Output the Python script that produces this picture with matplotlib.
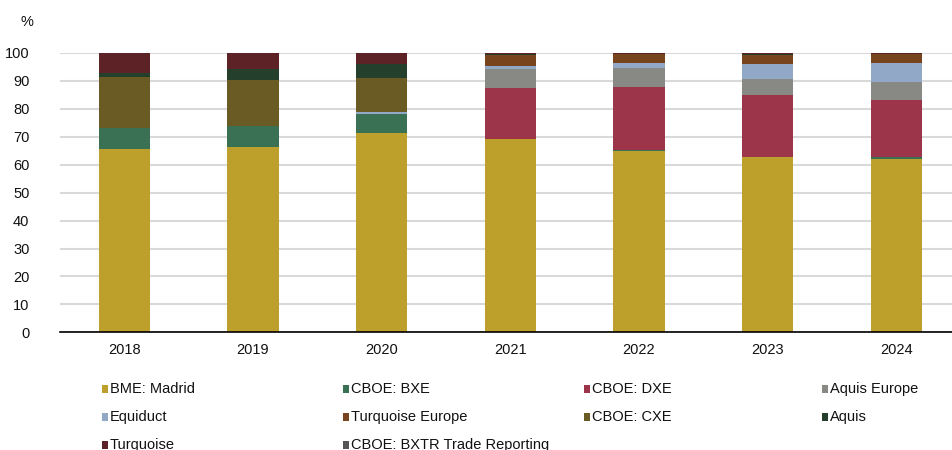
import matplotlib
matplotlib.use("Agg")
import matplotlib.pyplot as plt
from matplotlib.patches import Rectangle
import numpy as np

plt.rcParams['font.family'] = ['Liberation Sans Narrow', 'Liberation Sans', 'DejaVu Sans']

years = ["2018", "2019", "2020", "2021", "2022", "2023", "2024"]
series_names = ["BME: Madrid", "CBOE: BXE", "CBOE: DXE", "Aquis Europe",
                "Equiduct", "Turquoise Europe", "CBOE: CXE", "Aquis",
                "Turquoise", "CBOE: BXTR Trade Reporting"]
colors = ["#BDA02B", "#3A7054", "#9C3549", "#888884",
          "#91A8C6", "#78441E", "#695B23", "#243F2B",
          "#5C2226", "#555555"]

bme_madrid       = [65.6, 66.3, 71.3, 69.1, 64.9, 62.7, 62.0]
cboe_bxe         = [7.4, 7.5, 6.8, 0.0, 0.4, 0.0, 0.7]
cboe_dxe         = [0.0, 0.0, 0.0, 18.3, 22.4, 22.2, 20.4]
aquis_europe     = [0.0, 0.0, 0.0, 6.8, 6.8, 5.7, 6.4]
equiduct         = [0.3, 0.0, 0.9, 1.0, 1.8, 5.4, 6.8]
turquoise_europe = [0.0, 0.0, 0.0, 4.0, 3.2, 3.2, 3.2]
cboe_cxe         = [18.0, 16.4, 12.0, 0.0, 0.0, 0.0, 0.0]
aquis            = [1.4, 3.9, 5.2, 0.3, 0.0, 0.3, 0.0]
turquoise        = [7.3, 5.9, 3.8, 0.5, 0.5, 0.5, 0.5]
cboe_bxtr        = [0.0, 0.0, 0.0, 0.0, 0.0, 0.0, 0.0]

series = [bme_madrid, cboe_bxe, cboe_dxe, aquis_europe, equiduct,
          turquoise_europe, cboe_cxe, aquis, turquoise, cboe_bxtr]

W, H = 952, 450
fig = plt.figure(figsize=(W / 100, H / 100), dpi=100)
ax = fig.add_axes([60 / W, (H - 332.3) / H, (W - 60) / W, (332.3 - 53) / H])

x = np.arange(len(years))
bottom = np.zeros(len(years))
for vals, col in zip(series, colors):
    v = np.array(vals)
    ax.bar(x, v, width=0.4, bottom=bottom, color=col, linewidth=0, zorder=3)
    bottom += v

ax.set_ylim(0, 100)
ax.set_xlim(-0.5, -0.5 + 892 / 128.67)
ax.set_yticks(np.arange(0, 101, 10))
ax.set_xticks(x)
ax.set_xticklabels(years)
ax.grid(axis='y', color='#D9D9D9', linewidth=1.5, zorder=0)
ax.set_axisbelow(True)
for s in ['top', 'right', 'left']:
    ax.spines[s].set_visible(False)
ax.spines['bottom'].set_color('black')
ax.spines['bottom'].set_linewidth(1.2)
ax.spines['bottom'].set_zorder(4)
ax.tick_params(axis='both', length=0, labelsize=10.5, colors='#111111')
ax.tick_params(axis='y', pad=22)
ax.tick_params(axis='x', pad=8)
for lbl in ax.get_yticklabels():
    lbl.set_horizontalalignment('right')

fig.text(27 / W, 1 - 22 / H, "%", fontsize=10.5, ha='center', va='center', color='#111111')

# manual legend, 4 per row
col_x = [105, 346, 587, 825]
row_y = [389, 417, 445]
for i, (name, col) in enumerate(zip(series_names, colors)):
    r, c = divmod(i, 4)
    px, py = col_x[c], row_y[r]
    fig.patches.append(Rectangle(((px - 3) / W, 1 - (py + 4) / H), 6 / W, 8 / H,
                                 transform=fig.transFigure, facecolor=col,
                                 edgecolor='none'))
    fig.text((px + 5) / W, 1 - py / H, name, fontsize=10.5, ha='left', va='center',
             color='#111111')

fig.savefig("out.png", dpi=100)
